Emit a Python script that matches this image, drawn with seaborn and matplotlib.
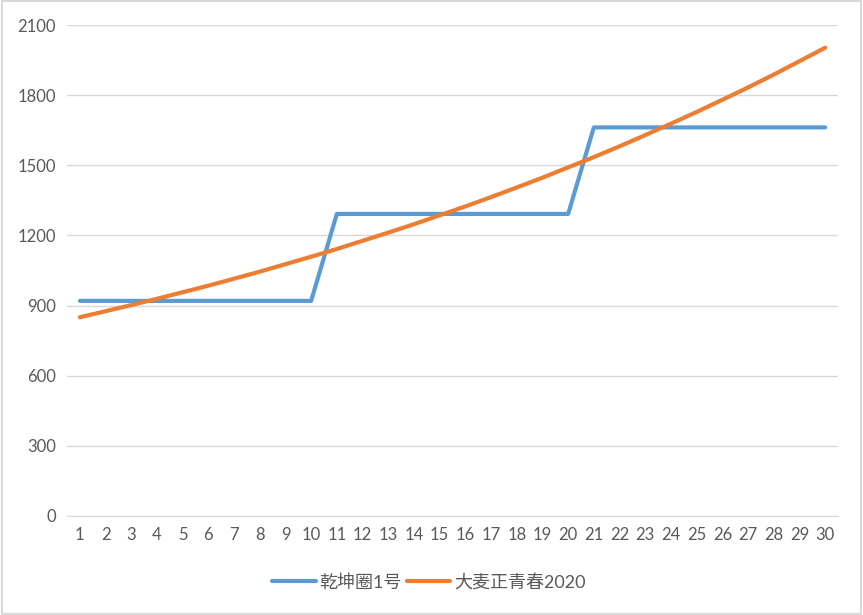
import matplotlib.pyplot as plt
import seaborn as sns
import pandas as pd

years = list(range(1, 31))
qiankun = [920] * 10 + [1292] * 10 + [1662] * 10
damai = [850, 876, 902, 929, 957, 985, 1015, 1045, 1077, 1109,
         1142, 1177, 1212, 1248, 1286, 1324, 1364, 1405, 1447, 1491,
         1535, 1581, 1629, 1678, 1728, 1780, 1833, 1888, 1945, 2003]
names = ["乾坤圈1号", "大麦正青春2020"]
colors = ["#5B9BD5", "#ED7D31"]

df = pd.DataFrame({
    "year": years * 2,
    "value": qiankun + damai,
    "name": [names[0]] * 30 + [names[1]] * 30,
})

sns.set_style("white")
plt.rcParams["font.family"] = ["Lato", "Noto Sans CJK SC", "DejaVu Sans"]

fig = plt.figure(figsize=(8.63, 6.15), dpi=100)
ax = fig.add_axes([67 / 863, 1 - 516 / 615, 771 / 863, 491 / 615])

sns.lineplot(data=df, x="year", y="value", hue="name", palette=colors,
             linewidth=3, ax=ax, legend=True)

ax.set_xlim(0.5, 30.5)
ax.set_ylim(0, 2100)
ax.set_yticks(range(0, 2101, 300))
ax.set_xticks(years)
ax.yaxis.grid(True, color="#d9d9d9", linewidth=1)
ax.xaxis.grid(False)
for s in ["top", "right", "left"]:
    ax.spines[s].set_visible(False)
ax.spines["bottom"].set_color("#d9d9d9")
ax.tick_params(colors="#595959", labelsize=12, length=0, pad=8)
ax.set_xlabel("")
ax.set_ylabel("")

handles, labels = ax.get_legend_handles_labels()
ax.get_legend().remove()
leg = fig.legend(handles, labels, loc="center", bbox_to_anchor=(0.497, 1 - 582 / 615),
                 ncol=2, frameon=False, fontsize=13, handlelength=2.4,
                 columnspacing=0.3, handletextpad=0.2)
for t in leg.get_texts():
    t.set_color("#595959")

fig.patches.append(plt.Rectangle((0.002, 0.002), 0.996, 0.996, transform=fig.transFigure,
                                 fill=False, edgecolor="#d9d9d9", linewidth=1.5))

fig.savefig("out.png", dpi=100)
